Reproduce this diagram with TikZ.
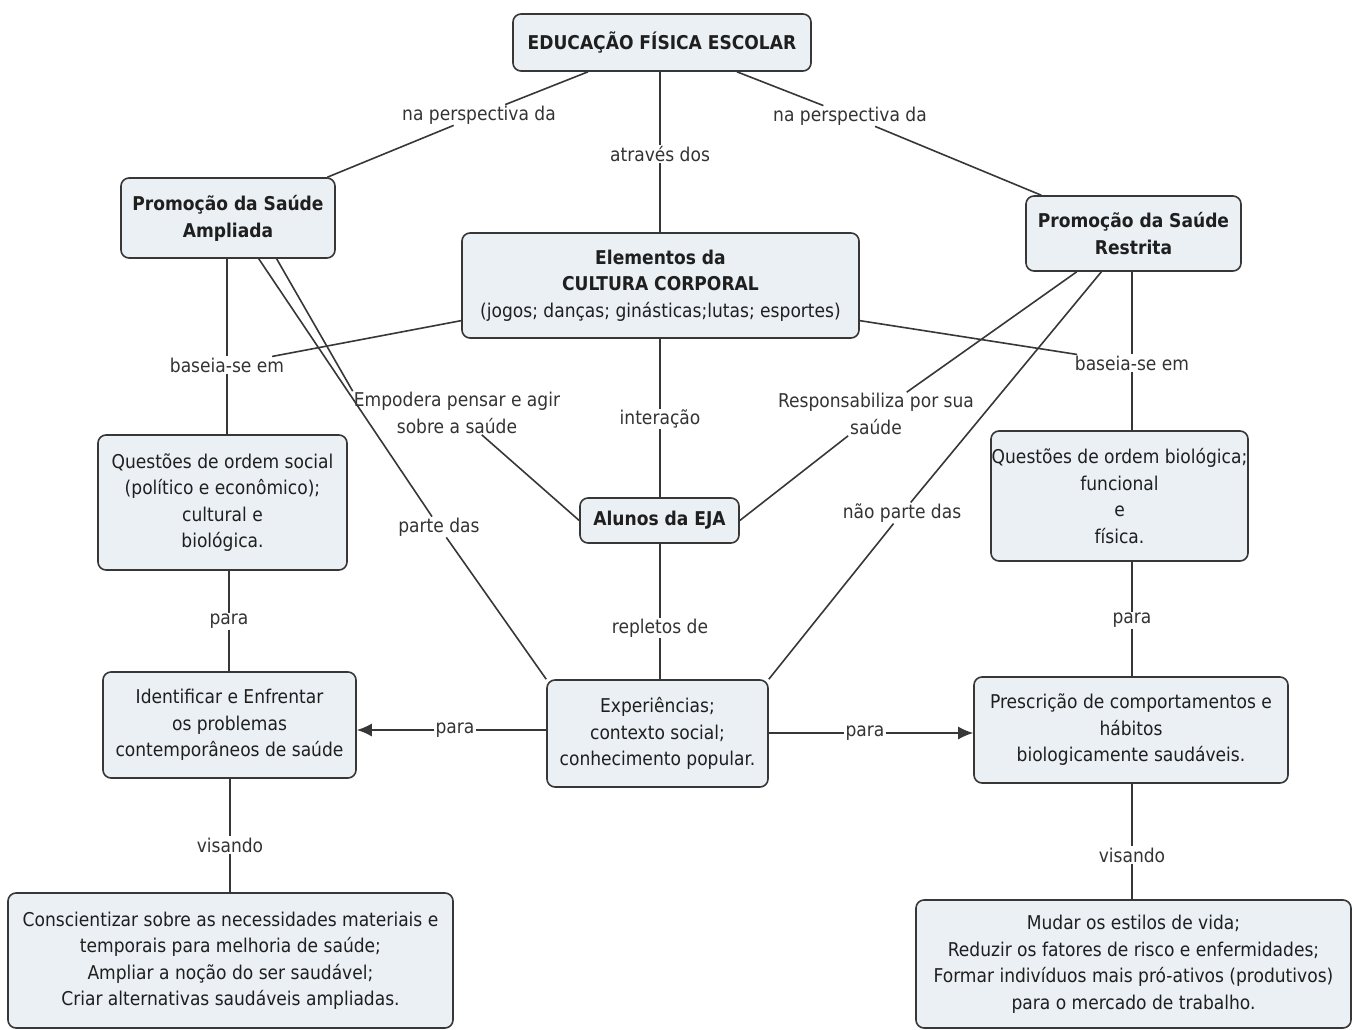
\documentclass[tikz,border=0pt]{standalone}
\usepackage{fontspec}
\setmainfont{DejaVu Sans Condensed}
\usepackage{tikz}
\usetikzlibrary{arrows.meta,positioning}
\definecolor{caixa}{RGB}{234,240,244}
\definecolor{traco}{RGB}{55,55,55}
\tikzstyle{conceito}=[
	rectangle,
	rounded corners=8,
	draw=traco,
	line width=1.6,
	fill=caixa,
	align=center,
	inner sep=0,
	text=black!88,
	font=\fontsize{19}{26.5}\selectfont]
\tikzstyle{negrito}=[
	conceito,
	font=\fontsize{19}{27}\selectfont\bfseries]
\tikzstyle{frase}=[
	inner sep=1,
	align=center,
	text=black!80,
	font=\fontsize{19}{26.5}\selectfont]
\tikzstyle{ligacao}=[
	draw=traco,
	line width=1.6]

\begin{document}
\begin{tikzpicture}[x=1pt,y=-1pt,>={Latex[length=15pt,width=13pt]}]
	\useasboundingbox (0,0) rectangle (1354,1030);
	\begin{scope}
		\node[negrito,minimum width=298,minimum height=57]	(edu)	at (662,42.5)	{EDUCAÇÃO FÍSICA ESCOLAR};
		\node[negrito,minimum width=214,minimum height=80]	(psa)	at (228,218)	{Promoção da Saúde\\Ampliada};
		\node[negrito,minimum width=215,minimum height=75]	(psr)	at (1133.5,233.5)	{Promoção da Saúde\\Restrita};
		\node[conceito,minimum width=397,minimum height=105]	(elem)	at (660.5,285.5)	{\textbf{Elementos da}\\\textbf{CULTURA CORPORAL}\\(jogos; danças; ginásticas;lutas; esportes)};
		\node[negrito,minimum width=159,minimum height=45]	(eja)	at (659.5,520.5)	{Alunos da EJA};
		\node[conceito,minimum width=249,minimum height=135]	(qsoc)	at (222.5,502.5)	{Questões de ordem social\\(político e econômico);\\cultural e\\biológica.};
		\node[conceito,minimum width=257,minimum height=130]	(qbio)	at (1119.5,496)	{Questões de ordem biológica;\\funcional\\e\\física.};
		\node[conceito,minimum width=221,minimum height=107]	(exp)	at (657.5,733.5)	{Experiências;\\contexto social;\\conhecimento popular.};
		\node[conceito,minimum width=253,minimum height=106]	(ident)	at (229.5,725)	{Identificar e Enfrentar\\os problemas\\contemporâneos de saúde};
		\node[conceito,minimum width=314,minimum height=106]	(presc)	at (1131,730)	{Prescrição de comportamentos e\\hábitos\\biologicamente saudáveis.};
		\node[conceito,minimum width=445,minimum height=135]	(consc)	at (230.5,960.5)	{Conscientizar sobre as necessidades materiais e\\temporais para melhoria de saúde;\\Ampliar a noção do ser saudável;\\Criar alternativas saudáveis ampliadas.};
		\node[conceito,minimum width=435,minimum height=128]	(mudar)	at (1133.5,964)	{Mudar os estilos de vida;\\Reduzir os fatores de risco e enfermidades;\\Formar indivíduos mais pró-ativos (produtivos)\\para o mercado de trabalho.};
	\end{scope}
	\begin{scope}
		\node[frase]	(lpa)	at (479,115)	{na perspectiva da};
		\node[frase]	(lpr)	at (850,116)	{na perspectiva da};
		\node[frase]	(lat)	at (660,154)	{através dos};
		\node[frase]	(lbsa)	at (227,365)	{baseia-se em};
		\node[frase]	(lbsr)	at (1132,363)	{baseia-se em};
		\node[frase]	(lemp)	at (457,413)	{Empodera pensar e agir\\sobre a saúde};
		\node[frase]	(lresp)	at (876,414)	{Responsabiliza por sua\\saúde};
		\node[frase]	(lint)	at (660,419)	{interação};
		\node[frase]	(lpd)	at (439,527)	{parte das};
		\node[frase]	(lnpd)	at (902,513)	{não parte das};
		\node[frase]	(lrep)	at (660,628)	{repletos de};
		\node[frase]	(lparaL)	at (229,621)	{para};
		\node[frase]	(lparaR)	at (1132,620)	{para};
		\node[frase]	(lparaEL)	at (455,730)	{para};
		\node[frase]	(lparaER)	at (865,733)	{para};
		\node[frase]	(lvisL)	at (230,845)	{visando};
		\node[frase]	(lvisR)	at (1132,855)	{visando};
	\end{scope}
	\draw[ligacao] (edu) -- (lpa) -- (psa);
	\draw[ligacao] (edu) -- (lpr) -- (psr);
	\draw[ligacao] (lat |- edu.south) -- (lat) -- (lat |- elem.north);
	\draw[ligacao] (lbsa |- psa.south) -- (lbsa) -- (lbsa |- qsoc.north);
	\draw[ligacao] (lbsr |- psr.south) -- (lbsr) -- (lbsr |- qbio.north);
	\draw[ligacao] (elem.190) -- (lbsa);
	\draw[ligacao] (elem.350) -- (lbsr);
	\draw[ligacao] (psa.-40) -- (lemp.north west);
	\draw[ligacao] (lemp) -- (eja.west);
	\draw[ligacao] (psa.-53) -- (lpd) -- (exp.north west);
	\draw[ligacao] (psr.214) -- (lresp) -- (eja.east);
	\draw[ligacao] (psr.230) -- (lnpd) -- (exp.north east);
	\draw[ligacao] (lint |- elem.south) -- (lint) -- (lint |- eja.north);
	\draw[ligacao] (lrep |- eja.south) -- (lrep) -- (lrep |- exp.north);
	\draw[ligacao] (lparaL |- qsoc.south) -- (lparaL) -- (lparaL |- ident.north);
	\draw[ligacao] (lparaR |- qbio.south) -- (lparaR) -- (lparaR |- presc.north);
	\draw[ligacao] (lvisL |- ident.south) -- (lvisL) -- (lvisL |- consc.north);
	\draw[ligacao] (lvisR |- presc.south) -- (lvisR) -- (lvisR |- mudar.north);
	\draw[ligacao,->] (exp.west |- lparaEL) -- (lparaEL) -- (lparaEL -| ident.east);
	\draw[ligacao,->] (exp.east |- lparaER) -- (lparaER) -- (lparaER -| presc.west);
\end{tikzpicture}
\end{document}
